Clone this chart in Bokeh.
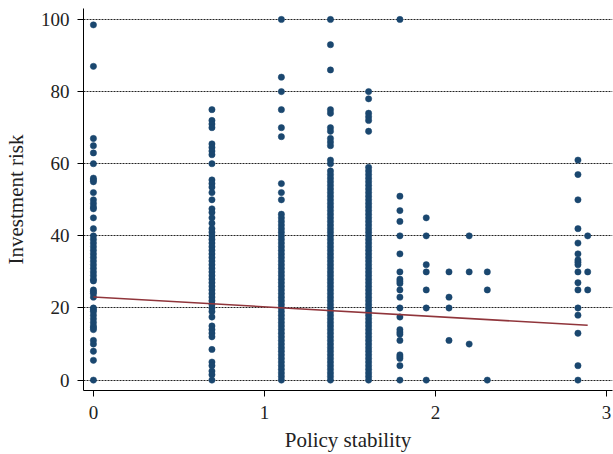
from bokeh.plotting import figure
from bokeh.models import FixedTicker, ColumnDataSource
from bokeh.embed import file_html
from bokeh.resources import INLINE

# Discrete policy-stability values (x positions of the columns)
x_levels = [0.0, 0.693, 1.099, 1.386, 1.609, 1.792, 1.946, 2.079, 2.197, 2.303, 2.833, 2.890]

# Investment risk values observed at each x level
risk_0 = [98.5, 87, 67, 65, 63, 60, 56, 55.5, 55, 52, 50, 49, 48, 47.5, 45, 42, 40, 39, 38, 37,
          36, 35, 34, 33, 32, 31, 30, 29, 28, 27.5, 25, 24.5, 24, 23, 20, 19.5, 19, 18, 17, 16,
          15, 14.5, 14, 11, 10, 8, 5.5, 0]
risk_1 = [75, 72, 71, 70, 65.5, 64.5, 63.5, 62.5, 60, 55.5, 54.5, 53.5, 52, 50, 47.5, 46.5, 45,
          43.5, 42, 41, 40, 39, 38, 37, 36, 35, 34, 33, 32, 31, 30, 29, 28, 27, 26, 25, 24, 23,
          22, 21, 20, 19, 17.5, 15, 14, 13, 12, 8.5, 5, 4, 2.5, 1.5, 0]
risk_2 = [100, 84, 80, 75, 70, 67.5, 54.5, 52, 50, 46, 45, 44, 43, 42, 41, 40, 39, 38, 37, 36,
          35, 34, 33, 32, 31, 30, 29, 28, 27, 26, 25, 24, 23, 22, 21, 20, 19, 18, 17, 16, 15,
          14, 13, 12, 11, 10, 9, 8, 7, 6, 5, 4, 3, 2, 1, 0]
risk_3 = [100, 93, 86, 75, 74, 70, 69, 67, 66, 65, 61, 60, 58, 57, 56, 55, 54, 53, 52, 51, 50,
          49, 48, 47, 46, 45, 44, 43, 42, 41, 40, 39, 38, 37, 36, 35, 34, 33, 32, 31, 30, 29,
          28, 27, 26, 25, 24, 23, 22, 21, 20, 19, 18, 17, 16, 15, 14, 13, 12, 11, 10, 9, 8, 7,
          6, 5, 4, 3, 2, 1, 0]
risk_4 = [80, 78, 74, 73, 72, 69, 59, 58, 57, 56, 55, 54, 53, 52, 51, 50, 49, 48, 47, 46, 45,
          44, 43, 42, 41, 40, 39, 38, 37, 36, 35, 34, 33, 32, 31, 30, 29, 28, 27, 26, 25, 24,
          23, 22, 21, 20, 19, 18, 17, 16, 15, 14, 13, 12, 11, 10, 9, 8, 7, 6, 5, 4, 3, 2, 1, 0]
risk_5 = [100, 51, 47, 44, 40, 35, 30, 28, 27.4, 26.8, 25, 23, 20, 17.5, 14, 13.3, 12.7, 11, 7,
          6.5, 6, 4, 0]
risk_6 = [45, 40, 32, 30, 25, 20, 0]
risk_7 = [30, 23, 20, 11]
risk_8 = [40, 30, 10]
risk_9 = [30, 25, 0]
risk_10 = [61, 57, 50, 42, 38, 35, 33.3, 32.7, 32, 30, 27, 25, 20, 18, 13, 4, 0]
risk_11 = [40, 30, 25]

# Fitted linear trend (endpoints)
fit_x = [0.0, 2.890]
fit_y = [23.05, 15.2]

x_ticks = [0, 1, 2, 3]
y_ticks = [0, 20, 40, 60, 80, 100]

columns = [risk_0, risk_1, risk_2, risk_3, risk_4, risk_5, risk_6, risk_7, risk_8,
           risk_9, risk_10, risk_11]
xs, ys = [], []
for xv, col in zip(x_levels, columns):
    for yv in col:
        xs.append(xv)
        ys.append(yv)
src = ColumnDataSource(dict(x=xs, y=ys))

p = figure(width=613, height=454, output_backend="svg", toolbar_location=None,
           x_range=(-0.058, 3.035), y_range=(-2.88, 103.04),
           min_border_left=82, min_border_right=1, min_border_top=8, min_border_bottom=63)
p.outline_line_color = None
p.background_fill_color = "white"
p.border_fill_color = "white"

FONT = "Liberation Serif"
TXT = "#222222"

p.xgrid.grid_line_color = None
p.ygrid.grid_line_color = "#222222"
p.ygrid.grid_line_dash = "2 1"
p.ygrid.grid_line_width = 1

for ax in (p.xaxis[0], p.yaxis[0]):
    ax.axis_line_color = "black"
    ax.axis_line_width = 1
    ax.major_tick_line_color = "black"
    ax.major_tick_out = 6
    ax.major_tick_in = 0
    ax.minor_tick_line_color = None
    ax.major_label_text_font = FONT
    ax.major_label_text_font_size = "19px"
    ax.major_label_text_color = TXT
    ax.axis_label_text_font = FONT
    ax.axis_label_text_font_size = "21px"
    ax.axis_label_text_font_style = "normal"
    ax.axis_label_text_color = TXT

p.xaxis.ticker = FixedTicker(ticks=x_ticks)
p.yaxis.ticker = FixedTicker(ticks=y_ticks)
p.xaxis.axis_label = "Policy stability"
p.yaxis.axis_label = "Investment risk"
p.yaxis.major_label_orientation = "horizontal"
p.xaxis.major_label_standoff = 9
p.xaxis.axis_label_standoff = 6
p.yaxis.major_label_standoff = 8
p.yaxis.axis_label_standoff = 10

p.scatter("x", "y", source=src, size=6.3, fill_color="#1a476f", line_color="#1a476f",
          line_width=0.5)
p.line(fit_x, fit_y, line_color="#90353b", line_width=1.6)

open("out.html", "w").write(file_html(p, INLINE))
